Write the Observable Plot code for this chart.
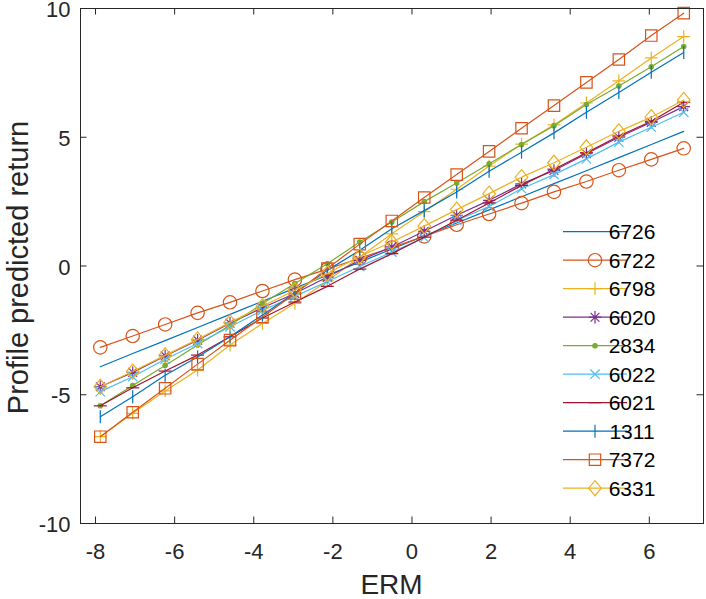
<!DOCTYPE html>
<html><head><meta charset="utf-8">
<script src="https://cdn.jsdelivr.net/npm/d3@7"></script>
<script src="https://cdn.jsdelivr.net/npm/@observablehq/plot@0.6"></script>
<style>body{margin:0;background:#fff}#chart{width:706px;height:599px}</style>
</head><body><div id="chart"></div>
<script>
// ---- data ----
const erm = [-7.88, -7.06, -6.24, -5.42, -4.60, -3.78, -2.96, -2.14, -1.32, -0.51, 0.31, 1.13, 1.95, 2.77, 3.59, 4.41, 5.23, 6.05, 6.87];
const seriesNames = ["6726", "6722", "6798", "6020", "2834", "6022", "6021", "1311", "7372", "6331"];
const s6726 = [-3.91, -3.40, -2.90, -2.39, -1.88, -1.37, -0.86, -0.36, 0.15, 0.66, 1.17, 1.67, 2.18, 2.69, 3.20, 3.70, 4.21, 4.72, 5.23];
const s6722 = [-3.16, -2.72, -2.27, -1.82, -1.41, -0.97, -0.53, -0.12, 0.30, 0.72, 1.15, 1.60, 2.02, 2.44, 2.88, 3.28, 3.72, 4.14, 4.57];
const s6798 = [-6.63, -5.72, -4.85, -4.04, -3.07, -2.23, -1.45, -0.58, 0.35, 1.25, 2.11, 2.98, 3.88, 4.73, 5.48, 6.33, 7.19, 8.08, 8.91];
const s6020 = [-4.69, -4.13, -3.49, -2.88, -2.22, -1.62, -1.07, -0.43, 0.22, 0.74, 1.35, 1.97, 2.55, 3.19, 3.71, 4.36, 5.00, 5.58, 6.19];
const s2834 = [-5.43, -4.64, -3.86, -3.07, -2.30, -1.46, -0.68, 0.09, 0.93, 1.71, 2.50, 3.22, 3.97, 4.72, 5.45, 6.27, 6.99, 7.74, 8.52];
const s6022 = [-4.88, -4.30, -3.62, -3.01, -2.36, -1.72, -1.18, -0.60, -0.02, 0.54, 1.10, 1.77, 2.31, 3.00, 3.55, 4.16, 4.81, 5.39, 5.97];
const s6021 = [-5.43, -4.73, -4.08, -3.46, -2.75, -2.02, -1.40, -0.79, -0.12, 0.48, 1.12, 1.78, 2.45, 3.13, 3.76, 4.40, 5.05, 5.62, 6.36];
const s1311 = [-5.85, -5.08, -4.24, -3.53, -2.75, -1.90, -1.05, -0.17, 0.61, 1.45, 2.15, 2.87, 3.68, 4.42, 5.17, 5.97, 6.74, 7.52, 8.29];
const s7372 = [-6.63, -5.68, -4.75, -3.81, -2.88, -1.98, -1.07, -0.10, 0.85, 1.75, 2.66, 3.55, 4.45, 5.35, 6.23, 7.13, 8.02, 8.95, 9.82];
const s6331 = [-4.69, -4.10, -3.47, -2.85, -2.19, -1.56, -0.94, -0.29, 0.38, 0.93, 1.55, 2.19, 2.81, 3.45, 4.01, 4.61, 5.23, 5.78, 6.45];
const seriesValues = [s6726, s6722, s6798, s6020, s2834, s6022, s6021, s1311, s7372, s6331];
const xTicks = [-8, -6, -4, -2, 0, 2, 4, 6];
const yTicks = [-10, -5, 0, 5, 10];
const xLabel = "ERM";
const yLabel = "Profile predicted return";

// ---- styles (MATLAB look) ----
const sym = {
  circle: {draw(c){ c.moveTo(6.7,0); c.arc(0,0,6.7,0,2*Math.PI); }},
  plus: {draw(c){ c.moveTo(-6.4,0); c.lineTo(6.4,0); c.moveTo(0,-6.4); c.lineTo(0,6.4); }},
  asterisk: {draw(c){ const a=6.2,b=4.4; c.moveTo(-a,0); c.lineTo(a,0); c.moveTo(0,-a); c.lineTo(0,a); c.moveTo(-b,-b); c.lineTo(b,b); c.moveTo(-b,b); c.lineTo(b,-b); }},
  point: {draw(c){ c.moveTo(2.2,0); c.arc(0,0,2.2,0,2*Math.PI); }},
  cross: {draw(c){ const b=4.7; c.moveTo(-b,-b); c.lineTo(b,b); c.moveTo(-b,b); c.lineTo(b,-b); }},
  hline: {draw(c){ c.moveTo(-6.5,0); c.lineTo(6.5,0); }},
  vline: {draw(c){ c.moveTo(0,-6.5); c.lineTo(0,6.5); }},
  square: {draw(c){ c.rect(-5.7,-5.7,11.4,11.4); }},
  diamond: {draw(c){ c.moveTo(0,-7.5); c.lineTo(6.3,0); c.lineTo(0,7.5); c.lineTo(-6.3,0); c.closePath(); }}
};
const styles = [
  {color:"#0072BD", marker:null},
  {color:"#D95319", marker:"circle"},
  {color:"#EDB120", marker:"plus"},
  {color:"#7E2F8E", marker:"asterisk"},
  {color:"#77AC30", marker:"point", filled:true},
  {color:"#4DBEEE", marker:"cross"},
  {color:"#A2142F", marker:"hline"},
  {color:"#0072BD", marker:"vline"},
  {color:"#D95319", marker:"square"},
  {color:"#EDB120", marker:"diamond"}
];

const rows = [];
seriesNames.forEach((name, i) => erm.forEach((x, j) => rows.push({name, x, y: seriesValues[i][j]})));

const W = 706, H = 599, mL = 80, mR = 3, mT = 8, mB = 76;
const pw = W - mL - mR, ph = H - mT - mB;
const axisColor = "#262626";

const marks = [];
seriesNames.forEach((name, i) => {
  const d = rows.filter(r => r.name === name);
  const st = styles[i];
  marks.push(Plot.line(d, {x:"x", y:"y", stroke: st.color, strokeWidth: 1.2}));
  if (st.marker) marks.push(Plot.dot(d, {x:"x", y:"y", symbol: sym[st.marker], r: 6, stroke: st.color, strokeWidth: 1.2, fill: st.filled ? st.color : "none"}));
});
marks.push(
  Plot.frame({stroke: axisColor, strokeWidth: 1}),
  Plot.tickX(xTicks, {x: d => d, stroke: axisColor, insetTop: ph - 6.5}),
  Plot.tickX(xTicks, {x: d => d, stroke: axisColor, insetBottom: ph - 6.5}),
  Plot.tickY(yTicks, {y: d => d, stroke: axisColor, insetRight: pw - 6.5}),
  Plot.tickY(yTicks, {y: d => d, stroke: axisColor, insetLeft: pw - 6.5}),
  Plot.axisX({ticks: xTicks, anchor: "bottom", tickSize: 0, tickPadding: 20, tickFormat: d => String(d), label: null, fill: axisColor}),
  Plot.axisY({ticks: yTicks, anchor: "left", tickSize: 0, tickPadding: 10, tickFormat: d => String(d), label: null, fill: axisColor, dy: 1.5})
);

const svg = Plot.plot({
  width: W, height: H,
  marginLeft: mL, marginRight: mR, marginTop: mT, marginBottom: mB,
  x: {domain: [-8.38, 7.37]},
  y: {domain: [-10, 10]},
  style: {fontFamily: "'Liberation Sans', Arial, sans-serif", fontSize: "22px", color: axisColor, background: "#fff", overflow: "visible"},
  marks
});

const s = d3.select(svg);
s.append("text").attr("x", mL + pw / 2).attr("y", 594).attr("text-anchor", "middle")
  .attr("fill", axisColor).style("font-size", "28px").text(xLabel);
s.append("text").attr("transform", `translate(28,${mT + ph / 2 + 2}) rotate(-90)`).attr("text-anchor", "middle")
  .attr("fill", axisColor).style("font-size", "29px").text(yLabel);

// legend
const lg = s.append("g");
seriesNames.forEach((name, i) => {
  const st = styles[i];
  const cy = 231.7 + i * 28.5;
  lg.append("line").attr("x1", 563).attr("x2", 627).attr("y1", cy).attr("y2", cy)
    .attr("stroke", st.color).attr("stroke-width", 1.2);
  if (st.marker) lg.append("path").attr("transform", `translate(595,${cy})`)
    .attr("d", d3.symbol(sym[st.marker], 36)()).attr("stroke", st.color).attr("stroke-width", 1.2)
    .attr("fill", st.filled ? st.color : "none");
  lg.append("text").attr("x", 632).attr("y", cy + 7.5).attr("fill", "#000").style("font-size", "21px").text(name);
});

document.getElementById("chart").appendChild(svg);
</script>
</body></html>
